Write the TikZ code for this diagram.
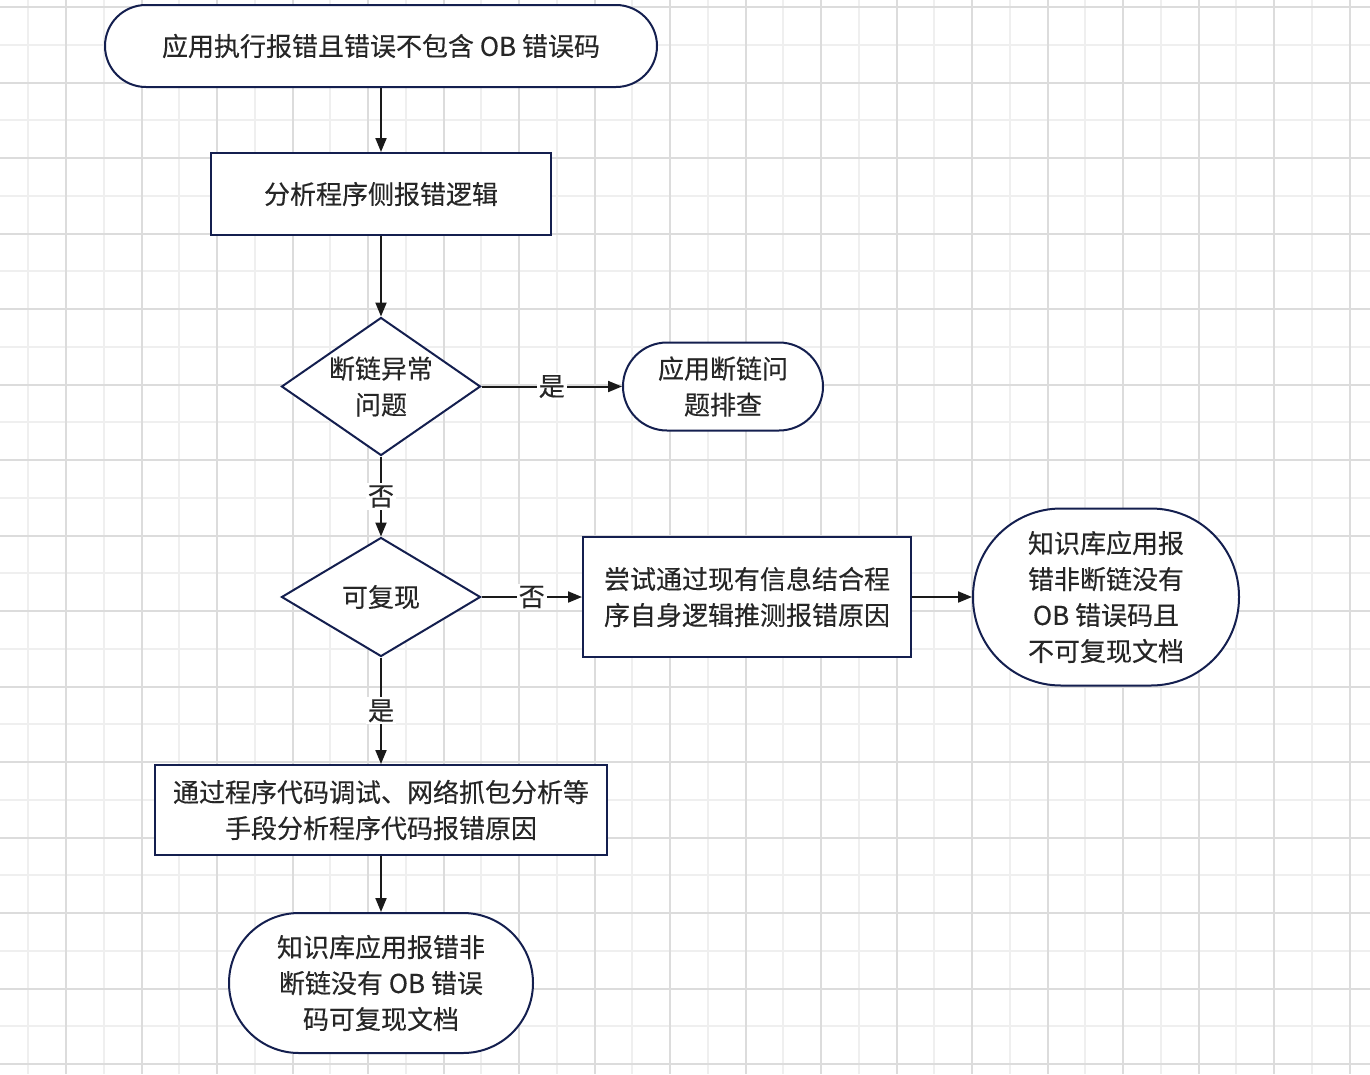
\documentclass[tikz,border=0pt]{standalone}
\usepackage{fontspec}
\setmainfont{Noto Sans CJK SC}[FakeBold=0.3]
\usetikzlibrary{shapes.geometric}
\usetikzlibrary{arrows.meta}
\definecolor{boxline}{HTML}{141F4F}
\definecolor{arrowline}{HTML}{1A1A1A}
\definecolor{textgray}{HTML}{262626}
\definecolor{gridmajor}{HTML}{DCDCDC}
\definecolor{gridminor}{HTML}{EFEFEF}
\tikzset{
	base/.style={draw=boxline, line width=2pt, fill=white, text=textgray, align=center,
		inner sep=0pt, font=\fontsize{26}{36}\selectfont},
	stadium/.style={base, rectangle, rounded corners=#1},
	procbox/.style={base, rectangle},
	decide/.style={base, diamond, aspect=1.44},
	flow/.style={draw=arrowline, line width=2pt, -{Triangle[length=14pt,width=11pt]}},
	answer/.style={fill=white, text=textgray, inner sep=2pt, font=\fontsize{26}{36}\selectfont}
}

\begin{document}
\begin{tikzpicture}[x=1pt, y=-1pt]
\useasboundingbox[fill=white] (0,0) rectangle (1370,1074);

% grid
\foreach \gx in {28.25,103.75,...,1370} \draw[gridminor, line width=2pt] (\gx,0) -- (\gx,1074);
\foreach \gy in {44.75,120.25,...,1074} \draw[gridminor, line width=2pt] (0,\gy) -- (1370,\gy);
\foreach \gx in {66,141.5,...,1370} \draw[gridmajor, line width=2pt] (\gx,0) -- (\gx,1074);
\foreach \gy in {7,82.5,...,1074} \draw[gridmajor, line width=2pt] (0,\gy) -- (1370,\gy);

\node[stadium=41, minimum width=552, minimum height=82] (start) at (381,46) {应用执行报错且错误不包含 OB 错误码};
\node[procbox, minimum width=340, minimum height=82] (analyse) at (381,194) {分析程序侧报错逻辑};
\node[decide, minimum width=199, minimum height=138] (broken) at (381,386.5) {断链异常\\问题};
\node[stadium=44, minimum width=200, minimum height=88] (brokencheck) at (723,386.5) {应用断链问\\题排查};
\node[decide, minimum width=199, minimum height=119] (repro) at (381,597) {可复现};
\node[procbox, minimum width=328, minimum height=120] (guess) at (747,597) {尝试通过现有信息结合程\\序自身逻辑推测报错原因};
\node[stadium=88, minimum width=266, minimum height=177] (guessdoc) at (1106,597) {知识库应用报\\错非断链没有\\OB 错误码且\\不可复现文档};
\node[procbox, minimum width=452, minimum height=90] (debug) at (381,810) {通过程序代码调试、网络抓包分析等\\手段分析程序代码报错原因};
\node[stadium=70, minimum width=304, minimum height=140] (debugdoc) at (381,983) {知识库应用报错非\\断链没有 OB 错误\\码可复现文档};

\draw[flow] (start) -- (analyse);
\draw[flow] (analyse) -- (broken);
\draw[flow] (broken) -- node[answer]{是} (brokencheck);
\draw[flow] (broken) -- node[answer]{否} (repro);
\draw[flow] (repro) -- node[answer]{否} (guess);
\draw[flow] (guess) -- (guessdoc);
\draw[flow] (repro) -- node[answer]{是} (debug);
\draw[flow] (debug) -- (debugdoc);
\end{tikzpicture}
\end{document}
